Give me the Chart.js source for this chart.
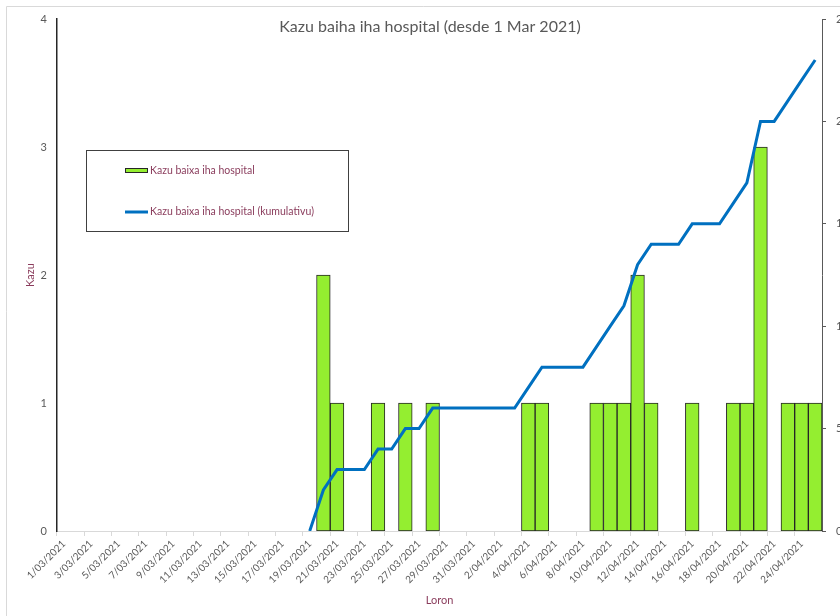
<!DOCTYPE html>
<html>
<head>
<meta charset="utf-8">
<script src="https://cdn.jsdelivr.net/npm/chart.js@4.4.0/dist/chart.umd.min.js"></script>
<style>
    html, body { margin: 0; padding: 0; background: #fff; overflow: hidden; }
    #wrap { position: relative; width: 840px; height: 616px; }
</style>
</head>
<body>
<div id="wrap"><canvas id="js--chart"></canvas></div>
<script>
const days = [
    "1/03/2021", "2/03/2021", "3/03/2021", "4/03/2021", "5/03/2021", "6/03/2021", "7/03/2021",
    "8/03/2021", "9/03/2021", "10/03/2021", "11/03/2021", "12/03/2021", "13/03/2021", "14/03/2021",
    "15/03/2021", "16/03/2021", "17/03/2021", "18/03/2021", "19/03/2021", "20/03/2021", "21/03/2021",
    "22/03/2021", "23/03/2021", "24/03/2021", "25/03/2021", "26/03/2021", "27/03/2021", "28/03/2021",
    "29/03/2021", "30/03/2021", "31/03/2021", "1/04/2021", "2/04/2021", "3/04/2021", "4/04/2021",
    "5/04/2021", "6/04/2021", "7/04/2021", "8/04/2021", "9/04/2021", "10/04/2021", "11/04/2021",
    "12/04/2021", "13/04/2021", "14/04/2021", "15/04/2021", "16/04/2021", "17/04/2021", "18/04/2021",
    "19/04/2021", "20/04/2021", "21/04/2021", "22/04/2021", "23/04/2021", "24/04/2021", "25/04/2021"
];

// kazu baixa kada loron
const dailyCases = [
    0, 0, 0, 0, 0, 0, 0,
    0, 0, 0, 0, 0, 0, 0,
    0, 0, 0, 0, 0, 2, 1,
    0, 0, 1, 0, 1, 0, 1,
    0, 0, 0, 0, 0, 0, 1,
    1, 0, 0, 0, 1, 1, 1,
    2, 1, 0, 0, 1, 0, 0,
    1, 1, 3, 0, 1, 1, 1
];

// kumulativu, line starts on 19/03
const cumulativeCases = [
    null, null, null, null, null, null, null,
    null, null, null, null, null, null, null,
    null, null, null, null, 0, 2, 3,
    3, 3, 4, 4, 5, 5, 6,
    6, 6, 6, 6, 6, 6, 7,
    8, 8, 8, 8, 9, 10, 11,
    13, 14, 14, 14, 15, 15, 15,
    16, 17, 20, 20, 21, 22, 23
];

const leftMax = 4;
const rightMax = 25;
const rightStep = 5;

const chartTitle = "Kazu baiha iha hospital (desde 1 Mar 2021)";
const barLabel = "Kazu baixa iha hospital";
const lineLabel = "Kazu baixa iha hospital (kumulativu)";

const tickColor = "#595959";
const titleColor = "#8a3c5c";

const extras = {
    id: "extras",
    beforeDraw(chart) {
        const ctx = chart.ctx;
        ctx.save();
        ctx.strokeStyle = "#d9d9d9";
        ctx.lineWidth = 1;
        ctx.beginPath();
        ctx.moveTo(6.5, 616);
        ctx.lineTo(6.5, 6.5);
        ctx.lineTo(840, 6.5);
        ctx.stroke();
        ctx.restore();
    },
    afterDraw(chart) {
        const ctx = chart.ctx;
        ctx.save();
        // title
        ctx.fillStyle = tickColor;
        ctx.font = "16px Lato";
        ctx.textAlign = "center";
        ctx.textBaseline = "middle";
        ctx.fillText(chartTitle, 430, 27);

        // legend box
        ctx.strokeStyle = "#404040";
        ctx.lineWidth = 1;
        ctx.strokeRect(86.5, 150.5, 262, 81);

        const bar = chart.data.datasets[0];
        const line = chart.data.datasets[1];
        ctx.fillStyle = bar.backgroundColor;
        ctx.fillRect(125, 168, 23, 5);
        ctx.strokeStyle = bar.borderColor;
        ctx.strokeRect(125.5, 168.5, 22, 4);

        ctx.strokeStyle = line.borderColor;
        ctx.lineWidth = 3;
        ctx.beginPath();
        ctx.moveTo(125, 212);
        ctx.lineTo(148, 212);
        ctx.stroke();

        ctx.fillStyle = titleColor;
        ctx.font = "10.5px Lato";
        ctx.textAlign = "left";
        ctx.fillText(bar.label, 150, 171);
        ctx.fillText(line.label, 150, 212);
        ctx.restore();
    }
};

const data = {
    labels: days,
    datasets: [
        {
            type: "bar",
            label: barLabel,
            data: dailyCases.map(v => v || null),
            yAxisID: "y",
            backgroundColor: "#94ee30",
            borderColor: "#262626",
            borderWidth: 1,
            borderSkipped: false,
            barPercentage: 1,
            categoryPercentage: 1,
            order: 2,
        },
        {
            type: "line",
            label: lineLabel,
            data: cumulativeCases,
            yAxisID: "y1",
            borderColor: "#0070c0",
            borderWidth: 3,
            pointRadius: 0,
            tension: 0,
            order: 1,
        }
    ]
};

const config = {
    type: "bar",
    data: data,
    plugins: [extras],
    options: {
        responsive: true,
        maintainAspectRatio: false,
        animation: false,
        layout: { padding: { top: 19, left: 0, right: 0, bottom: 0 } },
        plugins: {
            legend: { display: false },
            title: { display: false },
            tooltip: { enabled: false },
        },
        scales: {
            x: {
                offset: true,
                grid: {
                    offset: true,
                    drawOnChartArea: false,
                    drawTicks: true,
                    tickLength: 5,
                    color: (c) => c.index % 2 === 0 ? "#d9d9d9" : "rgba(0,0,0,0)",
                },
                border: { color: "#d9d9d9", width: 1 },
                ticks: {
                    autoSkip: false,
                    minRotation: 45,
                    maxRotation: 45,
                    padding: 2,
                    color: tickColor,
                    font: { family: "Lato", size: 10 },
                    callback: function (value, index) {
                        return index % 2 === 0 ? days[index] : "";
                    }
                },
                title: {
                    display: true,
                    text: "Loron",
                    color: titleColor,
                    font: { family: "Lato", size: 11 },
                    padding: { top: 0, bottom: 9 },
                },
                afterFit: function (scale) { scale.height = 85; }
            },
            y: {
                position: "left",
                min: 0,
                max: leftMax,
                grid: { display: false, drawTicks: false },
                border: { color: "#262626", width: 1.5 },
                ticks: {
                    stepSize: 1,
                    padding: 10,
                    color: tickColor,
                    font: { family: "Lato", size: 11 },
                },
                title: {
                    display: true,
                    text: "Kazu",
                    color: titleColor,
                    font: { family: "Lato", size: 11 },
                    padding: { top: 24, bottom: 0 },
                },
                afterFit: function (scale) { scale.width = 57; }
            },
            y1: {
                position: "right",
                min: 0,
                max: rightMax,
                grid: {
                    drawOnChartArea: false,
                    drawTicks: true,
                    tickLength: 4,
                    color: tickColor,
                },
                border: { color: tickColor, width: 1 },
                ticks: {
                    stepSize: rightStep,
                    padding: 10,
                    color: tickColor,
                    font: { family: "Lato", size: 11 },
                },
                afterFit: function (scale) { scale.width = 18; }
            }
        }
    }
};

const chart1 = new Chart(document.getElementById("js--chart"), config);
</script>
</body>
</html>
